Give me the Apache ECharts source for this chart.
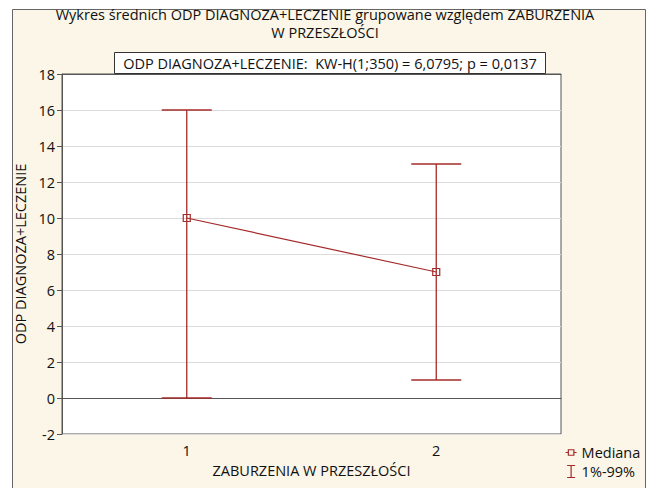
<!DOCTYPE html>
<html>
<head>
<meta charset="utf-8">
<script src="https://cdn.jsdelivr.net/npm/echarts@6/dist/echarts.min.js"></script>
<style>
  html, body { margin: 0; padding: 0; background: #fff; }
  #chart { width: 650px; height: 488px; }
</style>
</head>
<body>
<div id="chart"></div>
<script>
var groups = ['1', '2'];
var medians = [10, 7];
var lows = [0, 1];
var highs = [16, 13];
var yTicks = { min: -2, max: 18, step: 2 };

var red = '#a52a2a';
var font = 'Open Sans';
var fs = 14.5;

var chart = echarts.init(document.getElementById('chart'), null, { renderer: 'svg' });

var barData = groups.map(function(g, i) { return [i, lows[i], highs[i]]; });

chart.setOption({
  animation: false,
  textStyle: { fontFamily: font },
  title: [
    {
      text: 'Wykres średnich ODP DIAGNOZA+LECZENIE grupowane względem ZABURZENIA',
      left: 'center',
      top: 7,
      padding: 0,
      textStyle: { fontSize: fs, fontWeight: 'normal', color: '#111', lineHeight: 15, fontFamily: font }
    },
    {
      text: 'W PRZESZŁOŚCI',
      left: 'center',
      top: 25,
      padding: 0,
      textStyle: { fontSize: fs, fontWeight: 'normal', color: '#111', lineHeight: 15, fontFamily: font }
    }
  ],
  graphic: [
    {
      type: 'rect', z: -10, silent: true,
      shape: { x: 12.5, y: 9.5, width: 633, height: 490 },
      style: { fill: '#fbf6e8', stroke: '#666', lineWidth: 1 }
    },
    {
      type: 'rect', z: 10, silent: true,
      shape: { x: 114.5, y: 52.5, width: 431, height: 21 },
      style: { fill: '#fff', stroke: '#333', lineWidth: 1 }
    },
    {
      type: 'text', z: 11, silent: true,
      x: 330, y: 63,
      style: {
        text: 'ODP DIAGNOZA+LECZENIE:  KW-H(1;350) = 6,0795; p = 0,0137',
        fill: '#111', font: fs + 'px "Open Sans"', align: 'center', verticalAlign: 'middle'
      }
    }
  ],
  legend: {
    orient: 'vertical',
    left: 565,
    top: 445,
    itemWidth: 11,
    itemHeight: 12,
    itemGap: 4,
    padding: 0,
    textStyle: { fontSize: fs, color: '#111', fontFamily: font },
    data: [
      { name: 'Mediana', icon: 'path://M0,6L3,6M9,6L12,6M3,3L9,3L9,9L3,9Z',
        itemStyle: { color: 'transparent', borderColor: red, borderWidth: 1.2 } },
      { name: '1%-99%', icon: 'path://M2,0L10,0M6,0L6,12M2,12L10,12',
        itemStyle: { color: 'transparent', borderColor: red, borderWidth: 1.2 } }
    ]
  },
  grid: {
    left: 62, right: 89, top: 74, bottom: 54,
    show: true,
    backgroundColor: '#fff',
    borderColor: '#555',
    borderWidth: 1
  },
  xAxis: [
    {
      type: 'category',
      data: groups,
      boundaryGap: true,
      name: 'ZABURZENIA W PRZESZŁOŚCI',
      nameLocation: 'middle',
      nameGap: 26,
      nameTextStyle: { fontSize: fs, color: '#111', fontFamily: font },
      axisLine: { lineStyle: { color: '#555' } },
      axisTick: { alignWithLabel: true, inside: true, length: 4, lineStyle: { color: '#555' } },
      axisLabel: { fontSize: fs, color: '#111', margin: 9 },
      splitLine: { show: false }
    },
    {
      type: 'category',
      data: groups,
      position: 'top',
      boundaryGap: true,
      axisLine: { lineStyle: { color: '#555' } },
      axisTick: { alignWithLabel: true, inside: true, length: 4, lineStyle: { color: '#555' } },
      axisLabel: { show: false },
      splitLine: { show: false }
    }
  ],
  yAxis: {
    type: 'value',
    min: yTicks.min,
    max: yTicks.max,
    interval: yTicks.step,
    name: 'ODP DIAGNOZA+LECZENIE',
    nameLocation: 'middle',
    nameGap: 25,
    nameTextStyle: { fontSize: fs, color: '#111', fontFamily: font },
    axisLine: { show: true, lineStyle: { color: '#555' } },
    axisTick: { show: true, length: 5, lineStyle: { color: '#555' } },
    axisLabel: { fontSize: fs, color: '#111', margin: 7 },
    splitLine: { lineStyle: { color: '#dcdcdc', width: 1 } }
  },
  series: [
    {
      name: '1%-99%',
      type: 'custom',
      data: barData,
      z: 3,
      renderItem: function(params, api) {
        var top = api.coord([api.value(0), api.value(2)]);
        var bot = api.coord([api.value(0), api.value(1)]);
        var x = top[0];
        var half = 25;
        var st = { stroke: red, lineWidth: 1.3 };
        return {
          type: 'group',
          children: [
            { type: 'line', shape: { x1: x, y1: top[1], x2: x, y2: bot[1] }, style: st },
            { type: 'line', shape: { x1: x - half, y1: top[1], x2: x + half, y2: top[1] }, style: st },
            { type: 'line', shape: { x1: x - half, y1: bot[1], x2: x + half, y2: bot[1] }, style: st }
          ]
        };
      }
    },
    {
      name: 'Mediana',
      type: 'line',
      data: medians,
      z: 4,
      symbol: 'rect',
      symbolSize: 7,
      showAllSymbol: true,
      lineStyle: { color: red, width: 1.2 },
      itemStyle: { color: 'transparent', borderColor: red, borderWidth: 1.2 }
    }
  ]
});
</script>
</body>
</html>
